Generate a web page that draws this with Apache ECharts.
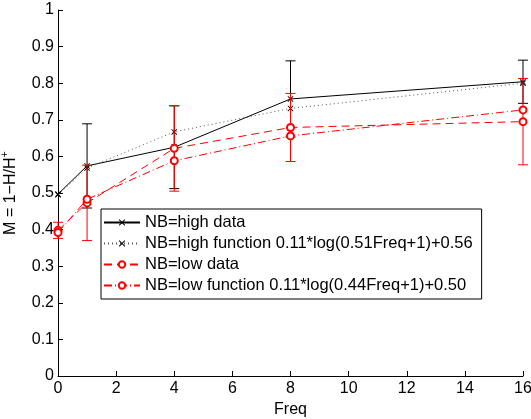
<!DOCTYPE html>
<html>
<head>
<meta charset="utf-8">
<script src="https://cdn.jsdelivr.net/npm/echarts@6/dist/echarts.min.js"></script>
<style>html,body{margin:0;padding:0;background:#fff}#c{width:531px;height:419px}</style>
</head>
<body>
<div id="c"></div>
<script>
const freq = [0, 1, 4, 8, 16];
const highData = [0.497, 0.574, 0.625, 0.757, 0.804];
const highErr = [0, 0.115, 0.113, 0.104, 0.059];
const highFunc = [0.495, 0.568, 0.667, 0.731, 0.800];
const lowData = [0.398, 0.473, 0.622, 0.679, 0.695];
const lowErr = [0.022, 0.103, 0.117, 0.093, 0.118];
const lowFunc = [0.392, 0.483, 0.588, 0.656, 0.727];
const names = [
  'NB=high data',
  'NB=high function 0.11*log(0.51Freq+1)+0.56',
  'NB=low data',
  'NB=low function 0.11*log(0.44Freq+1)+0.50'
];

const FONT = '"Liberation Sans", Arial, Helvetica, sans-serif';
const XMARK = 'path://M0,1 L1,0 L5,4 L9,0 L10,1 L6,5 L10,9 L9,10 L5,6 L1,10 L0,9 L4,5 Z';

function pairs(ys) { return freq.map((f, i) => [f, ys[i]]); }
function triples(ys, es) { return freq.map((f, i) => [f, ys[i], es[i]]); }

function errRender(color) {
  return function (params, api) {
    const x = api.value(0), y = api.value(1), e = api.value(2);
    if (!e) return null;
    const top = api.coord([x, y + e]);
    const bot = api.coord([x, y - e]);
    const w = 5;
    const style = { stroke: color, lineWidth: 1, fill: null };
    return {
      type: 'group',
      children: [
        { type: 'line', shape: { x1: top[0], y1: top[1], x2: bot[0], y2: bot[1] }, style: style },
        { type: 'line', shape: { x1: top[0] - w, y1: top[1], x2: top[0] + w, y2: top[1] }, style: style },
        { type: 'line', shape: { x1: bot[0] - w, y1: bot[1], x2: bot[0] + w, y2: bot[1] }, style: style }
      ]
    };
  };
}

const chart = echarts.init(document.getElementById('c'), null, { renderer: 'canvas' });
chart.setOption({
  animation: false,
  backgroundColor: '#fff',
  textStyle: { fontFamily: FONT },
  grid: { left: 58, right: 8, top: 10, bottom: 43, containLabel: false, outerBoundsMode: 'none' },
  legend: {
    orient: 'vertical',
    left: 101,
    top: 209,
    padding: [5, 9, 5, 2],
    itemWidth: 36,
    itemHeight: 8,
    itemGap: 4,
    backgroundColor: '#fff',
    borderColor: '#000',
    borderWidth: 1,
    borderRadius: 0,
    textStyle: { fontSize: 16.5, color: '#000', fontFamily: FONT },
    data: names
  },
  xAxis: {
    type: 'value',
    min: 0, max: 16, interval: 2,
    name: 'Freq',
    nameLocation: 'middle',
    nameGap: 21,
    nameTextStyle: { fontSize: 16, color: '#000', fontFamily: FONT },
    axisLine: { onZero: false, lineStyle: { color: '#000', width: 1 } },
    axisTick: { inside: true, length: 5, lineStyle: { color: '#000' } },
    axisLabel: { fontSize: 16, color: '#000', margin: 5, fontFamily: FONT },
    splitLine: { show: false }
  },
  yAxis: {
    type: 'value',
    min: 0, max: 1, interval: 0.1,
    name: '{a|M = 1−H/H}{s|+}',
    nameLocation: 'middle',
    nameGap: 39,
    nameTextStyle: {
      fontSize: 16, color: '#000', fontFamily: FONT,
      rich: {
        a: { fontSize: 16, color: '#000', fontFamily: FONT, lineHeight: 20, verticalAlign: 'bottom' },
        s: { fontSize: 11, color: '#000', fontFamily: FONT, lineHeight: 20, verticalAlign: 'top' }
      }
    },
    axisLine: { show: true, onZero: false, lineStyle: { color: '#000', width: 1 } },
    axisTick: { inside: true, length: 5, lineStyle: { color: '#000' } },
    axisLabel: { fontSize: 16, color: '#000', margin: 4, fontFamily: FONT },
    splitLine: { show: false }
  },
  series: [
    {
      name: names[0], type: 'line', data: pairs(highData),
      symbol: XMARK, symbolSize: 6, showSymbol: true,
      lineStyle: { color: '#000', width: 1, type: 'solid' },
      itemStyle: { color: '#000' }, z: 2
    },
    {
      name: 'highErr', type: 'custom', data: triples(highData, highErr),
      renderItem: errRender('#000'), clip: false, z: 2,
      encode: { x: 0, y: 1 }
    },
    {
      name: names[1], type: 'line', data: pairs(highFunc),
      symbol: XMARK, symbolSize: 6,
      lineStyle: { color: '#555', width: 1, type: [1, 3] },
      itemStyle: { color: '#000' }, z: 3
    },
    {
      name: names[2], type: 'line', data: pairs(lowData),
      symbol: 'emptyCircle', symbolSize: 7,
      lineStyle: { color: '#ff0000', width: 1, type: [8, 5] },
      itemStyle: { color: '#ff0000', borderColor: '#ff0000', borderWidth: 1 }, z: 4
    },
    {
      name: 'lowErr', type: 'custom', data: triples(lowData, lowErr),
      renderItem: errRender('#ff0000'), clip: false, z: 4,
      encode: { x: 0, y: 1 }
    },
    {
      name: names[3], type: 'line', data: pairs(lowFunc),
      symbol: 'emptyCircle', symbolSize: 7,
      lineStyle: { color: '#ff0000', width: 1, type: [8, 3, 1, 3] },
      itemStyle: { color: '#ff0000', borderColor: '#ff0000', borderWidth: 1 }, z: 5
    }
  ]
});
</script>
</body>
</html>
